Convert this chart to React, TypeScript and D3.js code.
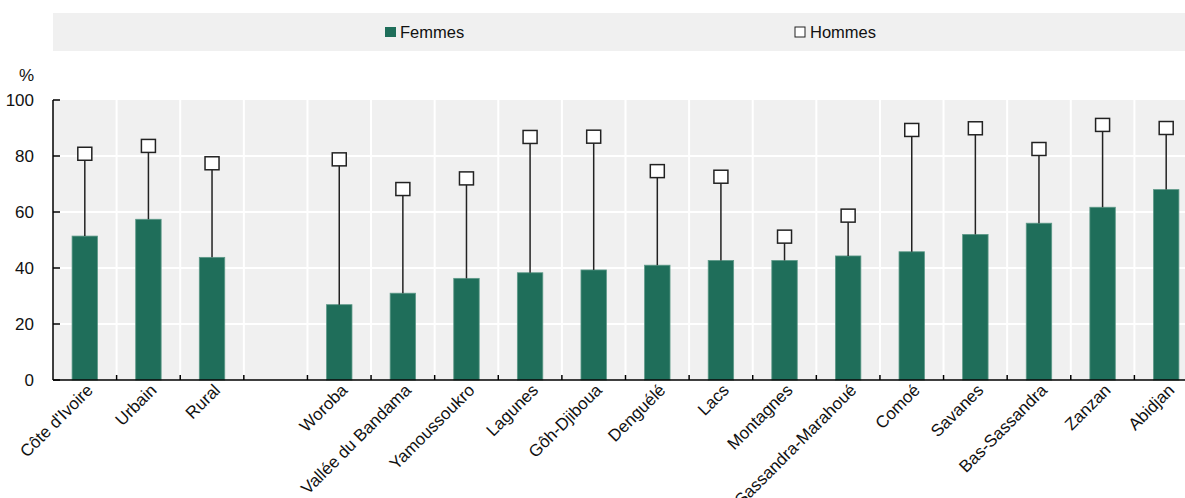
import React from "react";
import * as d3 from "d3";

const categories = [
  "Côte d'Ivoire", "Urbain", "Rural", "",
  "Woroba", "Vallée du Bandama", "Yamoussoukro", "Lagunes", "Gôh-Djiboua",
  "Denguélé", "Lacs", "Montagnes", "Sassandra-Marahoué", "Comoé",
  "Savanes", "Bas-Sassandra", "Zanzan", "Abidjan",
];
const femmes = [51.4, 57.4, 43.8, null, 26.9, 31.0, 36.3, 38.3, 39.3, 41.0, 42.7, 42.7, 44.3, 45.8, 52.0, 56.0, 61.7, 68.0];
const hommes = [80.8, 83.6, 77.4, null, 78.8, 68.2, 72.0, 86.8, 86.9, 74.6, 72.6, 51.2, 58.7, 89.3, 89.9, 82.5, 91.1, 90.0];
const yTicks = [0, 20, 40, 60, 80, 100];
const legendLabels = ["Femmes", "Hommes"];

const W = 1185, H = 498;
const FONT = "'Liberation Sans', Arial, sans-serif";
const GREEN = "#1f6e5a";

export default function App() {
  const left = 53, right = 1198, top = 100, bottom = 380;
  const x = d3.scaleBand<number>().domain(categories.map((_, i) => i)).range([left, right]).paddingInner(0).paddingOuter(0);
  const y = d3.scaleLinear().domain([0, 100]).range([bottom, top]);
  const bw = x.bandwidth() * 0.4;
  const ms = 13;

  return (
    <svg width={W} height={H} style={{ position: "absolute", left: 0, top: 0, fontFamily: FONT }}>
      {/* legend */}
      <rect x={53} y={13} width={W - 53} height={38} fill="#f0f0f0" />
      <rect x={385} y={27} width={11} height={10} fill={GREEN} />
      <text x={400} y={32} dy="0.35em" fontSize={16.5} fill="#111">{legendLabels[0]}</text>
      <rect x={795} y={27} width={10} height={10} fill="#fff" stroke="#222" strokeWidth={1} />
      <text x={810} y={32} dy="0.35em" fontSize={16.5} fill="#111">{legendLabels[1]}</text>

      {/* plot background */}
      <rect x={left} y={top} width={right - left} height={bottom - top} fill="#f0f0f0" />
      {yTicks.filter(t => t > 0 && t < 100).map(t => (
        <line key={"g" + t} x1={left} x2={right} y1={y(t)} y2={y(t)} stroke="#fff" strokeWidth={2} />
      ))}
      {categories.map((_, i) => i > 0 ? (
        <line key={"v" + i} x1={x(i)!} x2={x(i)!} y1={top} y2={bottom} stroke="#fff" strokeWidth={2} />
      ) : null)}

      {/* bars */}
      {femmes.map((v, i) => v == null ? null : (
        <rect key={"b" + i} x={x(i)! + (x.bandwidth() - bw) / 2} y={y(v)} width={bw} height={y(0) - y(v)}
          fill={GREEN} stroke="#5e9a89" strokeWidth={0.8} />
      ))}
      {/* stems and markers */}
      {hommes.map((v, i) => {
        const f = femmes[i];
        if (v == null || f == null) return null;
        const cx = x(i)! + x.bandwidth() / 2;
        return (
          <g key={"m" + i}>
            <line x1={cx} x2={cx} y1={y(f)} y2={y(v) + ms / 2} stroke="#222" strokeWidth={1.5} />
            <rect x={cx - 7} y={y(v) - ms / 2} width={14} height={ms} fill="#fff" stroke="#222" strokeWidth={1.5} />
          </g>
        );
      })}

      {/* axes */}
      <line x1={left} x2={left} y1={top} y2={bottom} stroke="#000" strokeWidth={1.5} />
      <line x1={left} x2={right} y1={bottom} y2={bottom} stroke="#000" strokeWidth={1.5} />
      {yTicks.map(t => (
        <g key={"yt" + t}>
          <line x1={left} x2={left + 7} y1={y(t)} y2={y(t)} stroke="#000" strokeWidth={1.5} />
          <text x={34} y={y(t)} dy="0.35em" textAnchor="end" fontSize={17} fill="#111">{t}</text>
        </g>
      ))}
      {categories.map((_, i) => i > 0 ? (
        <line key={"xt" + i} x1={x(i)!} x2={x(i)!} y1={bottom} y2={bottom - 5} stroke="#000" strokeWidth={1.5} />
      ) : null)}
      <text x={34} y={81} textAnchor="end" fontSize={17} fill="#111">%</text>

      {/* x labels */}
      {categories.map((c, i) => c ? (
        <text key={"xl" + i} transform={`translate(${x(i)! + x.bandwidth() / 2 + 5},${bottom + 7}) rotate(-45)`}
          textAnchor="end" dy="0.35em" fontSize={17} fill="#111">{c}</text>
      ) : null)}
    </svg>
  );
}
